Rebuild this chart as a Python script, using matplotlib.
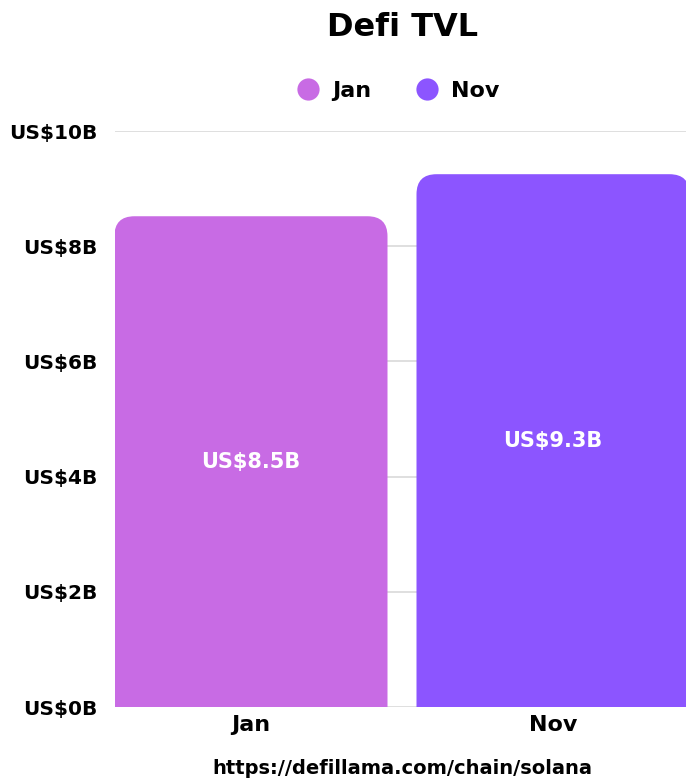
import matplotlib.pyplot as plt
from matplotlib.patches import FancyBboxPatch
from matplotlib.lines import Line2D

# data (values in billions USD)
months = ['Jan', 'Nov']
tvl = [8.52, 9.25]
bar_labels = ['US$8.5B', 'US$9.3B']
colors = ['#c86be4', '#8c55ff']
yticks = [0, 2, 4, 6, 8, 10]
ytick_labels = ['US$0B', 'US$2B', 'US$4B', 'US$6B', 'US$8B', 'US$10B']

plt.rcParams['font.family'] = ['DejaVu Sans']
plt.rcParams['font.weight'] = 'bold'

fig = plt.figure(figsize=(6.86, 7.8), dpi=100)
ax = fig.add_axes([115 / 686, 73 / 780, 574 / 686, 576 / 780])
ax.set_xlim(-0.45, 1.45)
ax.set_ylim(0, 10)

# rounded top bars: pixel scale ~302 px per x unit, 57.6 px per y unit
rx = 20 / 302
ry = 20 / 57.6
for i, (v, c) in enumerate(zip(tvl, colors)):
    patch = FancyBboxPatch((i - 0.452, -1), 0.904, v + 1,
                           boxstyle=f'round,pad=0,rounding_size={rx}',
                           mutation_aspect=ry / rx,
                           facecolor=c, edgecolor='none', zorder=2)
    ax.add_patch(patch)
    ax.text(i, v / 2, bar_labels[i], ha='center', va='center',
            color='white', fontsize=15, fontweight='bold', zorder=3)

ax.set_yticks(yticks)
ax.set_yticklabels(ytick_labels, fontsize=14.5, fontweight='bold')
ax.set_xticks(range(len(months)))
ax.set_xticklabels(months, fontsize=16, fontweight='bold')
ax.tick_params(axis='y', length=0, pad=13)
ax.tick_params(axis='x', length=0, pad=6)
ax.grid(axis='y', color='#d9d9d9', linewidth=1.2, zorder=0)
ax.set_axisbelow(True)
for s in ax.spines.values():
    s.set_visible(False)

fig.text(403 / 686, 1 - 27 / 780, 'Defi TVL', ha='center', va='center',
         fontsize=23, fontweight='bold')

handles = [Line2D([], [], marker='o', linestyle='none', markersize=16,
                  markerfacecolor=c, markeredgecolor='none') for c in colors]
fig.legend(handles, months, loc='center', bbox_to_anchor=(397 / 686, 1 - 91 / 780),
           ncol=2, frameon=False, prop={'size': 16, 'weight': 'bold'},
           handletextpad=0.5, columnspacing=1.9, handlelength=1.2)

fig.text(402 / 686, 1 - 768 / 780, 'https://defillama.com/chain/solana',
         ha='center', va='center', fontsize=14, fontweight='bold')

fig.savefig('out.png', dpi=100)
